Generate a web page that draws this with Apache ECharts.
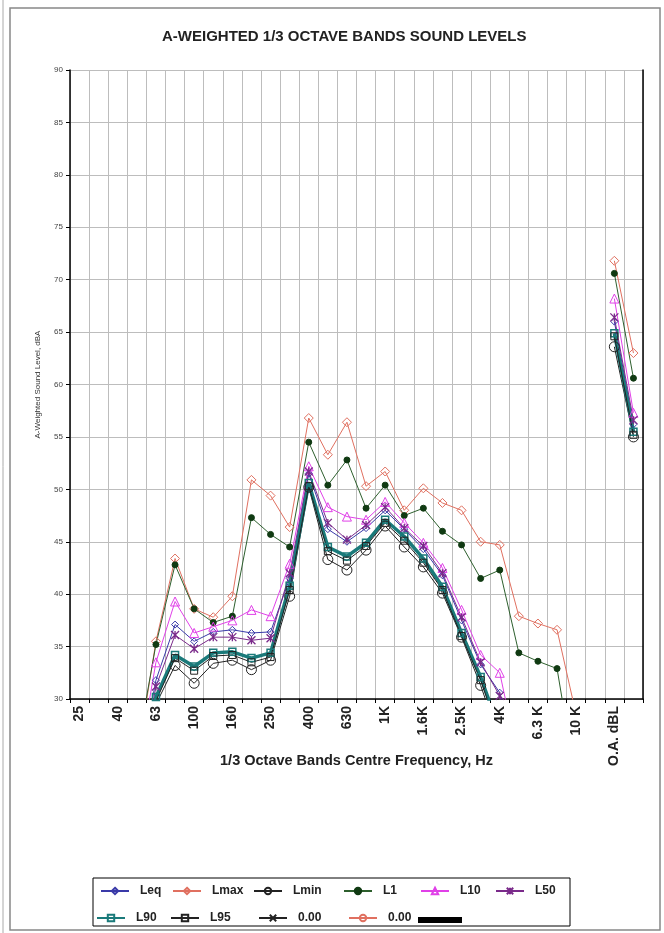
<!DOCTYPE html>
<html>
<head>
<meta charset="utf-8">
<script src="https://cdn.jsdelivr.net/npm/echarts@6/dist/echarts.min.js"></script>
<style>
html,body{margin:0;padding:0;background:#fff;}
#chart{width:664px;height:933px;}
</style>
</head>
<body>
<div id="chart"></div>
<script>
// 1/3 octave band categories (blank cells are spacers / unlabelled columns)
const categories = ['25','31.5','40','50','63','80','100','125','160','200','250','315','400','500','630','800','1K','1.25K','1.6K','2K','2.5K','3.15K','4K','5K','6.3 K','8K','10 K','','O.A. dBL',' '];
const yTicks = [30, 35, 40, 45, 50, 55, 60, 65, 70, 75, 80, 85, 90];

const Leq  = [null,null,null,22,31.8,37.1,35.5,36.4,36.6,36.3,36.4,41.5,51.5,46.2,45.0,46.3,48.0,46.2,44.3,41.8,37.5,33.3,30.6,24,null,null,null,null,66.0,56.2];
const Lmax = [null,null,null,24,35.5,43.4,38.6,37.8,39.8,50.9,49.4,46.4,56.8,53.3,56.4,50.3,51.7,48.0,50.1,48.7,48.0,45.0,44.7,37.9,37.2,36.6,28.5,null,71.8,63.0];
const Lmin = [null,null,null,19,29.5,33.2,31.5,33.4,33.7,32.8,33.7,39.8,50.2,43.3,42.3,44.2,46.5,44.5,42.6,40.1,35.9,31.3,26.0,null,null,null,null,null,63.6,55.0];
const L1   = [null,null,null,25,35.2,42.8,38.6,37.3,37.9,47.3,45.7,44.5,54.5,50.4,52.8,48.2,50.4,47.5,48.2,46.0,44.7,41.5,42.3,34.4,33.6,32.9,22,null,70.6,60.6];
const L10  = [null,null,null,23,33.5,39.3,36.3,36.9,37.5,38.5,37.9,42.9,52.2,48.3,47.4,47.1,48.8,46.8,44.9,42.5,38.5,34.2,32.5,24,null,null,null,null,68.2,57.3];
const L50  = [null,null,null,21,31.2,36.1,34.8,35.9,35.9,35.6,35.8,42.0,51.7,46.8,45.2,46.6,48.3,46.3,44.6,42.0,37.8,33.5,30.3,23,null,null,null,null,66.4,56.6];
const L90  = [null,null,null,20,30.2,34.2,33.1,34.4,34.5,33.9,34.4,40.8,50.6,44.5,43.6,44.9,47.1,45.5,43.4,40.7,36.3,32.1,27.0,null,null,null,null,null,64.9,55.5];
const L95  = [null,null,null,19.5,29.8,33.9,32.7,34.1,34.2,33.5,34.0,40.4,50.3,44.1,43.2,44.6,46.8,45.1,43.0,40.4,36.0,31.8,26.5,null,null,null,null,null,64.6,55.2];
const blankA = [];
const blankB = [];
const blankC = [];

const FONT = "'Liberation Sans', Arial, sans-serif";
const chart = echarts.init(document.getElementById('chart'), null, {renderer:'canvas'});

function mk(name, data, color, symbol, size, opts) {
  opts = opts || {};
  return {
    name: name, type: 'line', data: data, color: color,
    symbol: symbol, symbolSize: size, showSymbol: true, clip: true,
    connectNulls: false, animation: false,
    lineStyle: {color: color, width: opts.width || 1},
    itemStyle: opts.filled ? {color: opts.fill || color, borderColor: opts.fill || color, borderWidth: 1}
                           : {color: 'rgba(0,0,0,0)', borderColor: color, borderWidth: opts.bw || 1},
    emphasis: {disabled: true}
  };
}
const star = 'path://M0,0L10,10M10,0L0,10M5,0L5,10';
const xmark = 'path://M0,0L10,10M10,0L0,10';

const series = [
  mk('Leq', Leq, '#3a3aa8', 'diamond', 7),
  mk('Lmax', Lmax, '#e07060', 'diamond', 9),
  mk('Lmin', Lmin, '#222222', 'circle', 10),
  mk('L1', L1, '#2d5f2d', 'circle', 6, {filled: true, fill: '#103a12'}),
  mk('L10', L10, '#e040e8', 'triangle', 9),
  mk('L50', L50, '#7a2a8a', star, 8, {bw: 1.3}),
  mk('L90', L90, '#1a7a7a', 'rect', 7, {width: 3.5, bw: 1.5}),
  mk('L95', L95, '#222222', 'rect', 7),
  mk('0.00', blankA, '#222222', xmark, 7),
  mk('0.00 ', blankB, '#e07060', 'circle', 7),
  mk('  ', blankC, '#000000', 'none', 1, {width: 4, filled: true, fill: '#000000'})
];

const legendPos = [
  ['Leq', 100, 885], ['Lmax', 172, 885], ['Lmin', 253, 885], ['L1', 343, 885], ['L10', 420, 885], ['L50', 495, 885],
  ['L90', 96, 912], ['L95', 170, 912], ['0.00', 258, 912], ['0.00 ', 348, 912], ['  ', 418, 912]
];
const legends = legendPos.map(function (p) {
  const blank = p[0] === '  ';
  return {
    data: [blank ? {name: p[0], icon: 'rect'} : p[0]], left: p[1], top: p[2] + (blank ? 5 : 0), padding: 0,
    itemWidth: blank ? 42 : 28, itemHeight: blank ? 4 : 8, selectedMode: false,
    formatter: function (n) { return n.trim(); },
    textStyle: {fontFamily: FONT, fontWeight: 'bold', fontSize: 12, color: '#222', padding: [0, 0, 0, 6]}
  };
});

chart.setOption({
  backgroundColor: '#fff',
  animation: false,
  title: {
    text: 'A-WEIGHTED 1/3 OCTAVE BANDS SOUND LEVELS',
    left: 162, top: 29, padding: 0,
    textStyle: {fontFamily: FONT, fontWeight: 'bold', fontSize: 15, color: '#222'}
  },
  legend: legends,
  grid: {left: 70, right: 21, top: 70, bottom: 234, containLabel: false},
  xAxis: {
    type: 'category', data: categories, boundaryGap: true,
    name: '1/3 Octave Bands Centre Frequency, Hz', nameLocation: 'middle', nameGap: 54, nameMoveOverlap: false,
    nameTextStyle: {fontFamily: FONT, fontWeight: 'bold', fontSize: 14.5, color: '#222'},
    axisLine: {lineStyle: {color: '#000', width: 1.5}},
    axisTick: {show: true, interval: 0, length: 4, lineStyle: {color: '#000'}},
    axisLabel: {interval: 1, rotate: 90, margin: 7, fontFamily: FONT, fontWeight: 'bold', fontSize: 14, color: '#222'},
    splitLine: {show: true, interval: 0, lineStyle: {color: '#bdbdbd', width: 1}}
  },
  yAxis: [{
    type: 'value', min: yTicks[0], max: yTicks[yTicks.length - 1], interval: 5,
    name: 'A-Weighted Sound Level, dBA', nameLocation: 'middle', nameGap: 28, nameRotate: 90, nameMoveOverlap: false,
    nameTextStyle: {fontFamily: FONT, fontSize: 8, color: '#333'},
    axisLine: {show: true, lineStyle: {color: '#000', width: 1.5}},
    axisTick: {show: true, length: 4, lineStyle: {color: '#000'}},
    axisLabel: {fontFamily: FONT, fontSize: 8, color: '#444', margin: 7},
    splitLine: {show: true, lineStyle: {color: '#bdbdbd', width: 1}}
  }, {
    type: 'value', min: yTicks[0], max: yTicks[yTicks.length - 1], interval: 5, position: 'right',
    axisLine: {show: true, lineStyle: {color: '#000', width: 1.5}},
    axisTick: {show: false}, axisLabel: {show: false}, splitLine: {show: false}
  }],
  graphic: [
    {type: 'rect', shape: {x: 10, y: 8, width: 650, height: 922}, style: {fill: 'none', stroke: '#888', lineWidth: 1.5}, silent: true},
    {type: 'line', shape: {x1: 3, y1: 0, x2: 3, y2: 933}, style: {stroke: '#aaa', lineWidth: 1}, silent: true},
    {type: 'rect', shape: {x: 93, y: 878, width: 477, height: 48}, style: {fill: 'none', stroke: '#000', lineWidth: 1}, silent: true}
  ],
  series: series
});
</script>
</body>
</html>
